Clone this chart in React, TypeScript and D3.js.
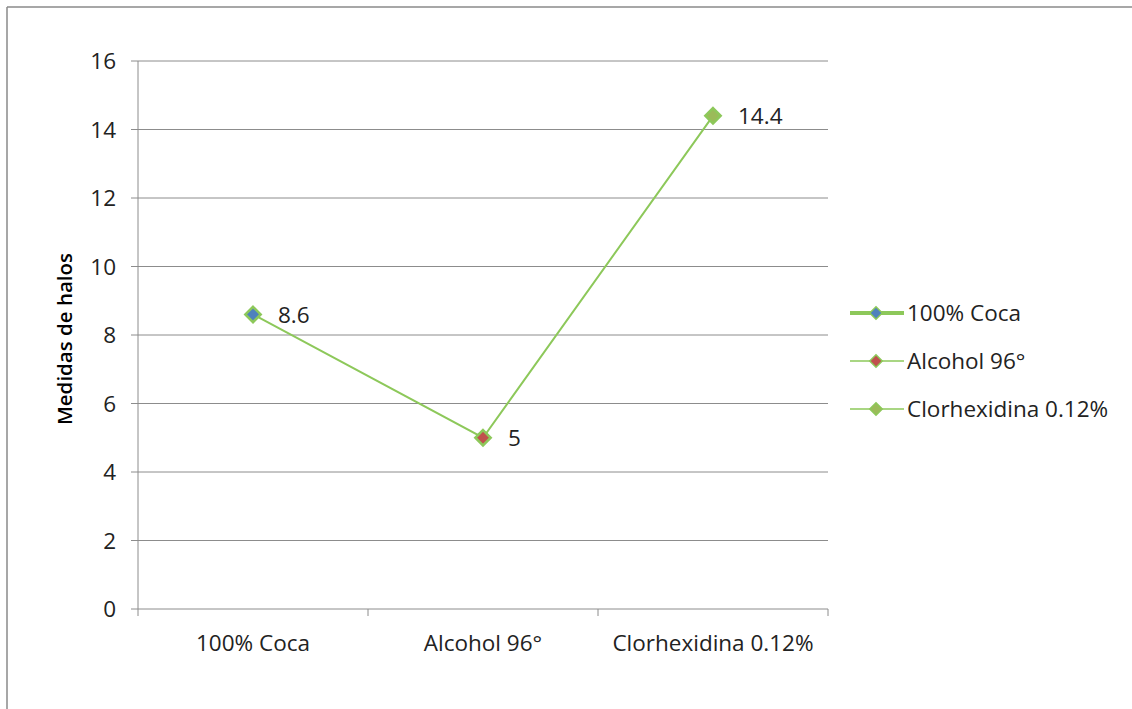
import React from "react";
import * as d3 from "d3";

const categories = ["100% Coca", "Alcohol 96°", "Clorhexidina 0.12%"];
const values = [8.6, 5, 14.4];
const labels = ["8.6", "5", "14.4"];
const markerColors = ["#4F81BD", "#C0504D", "#9BBB59"];
const yTicks = [0, 2, 4, 6, 8, 10, 12, 14, 16];
const legendNames = ["100% Coca", "Alcohol 96°", "Clorhexidina 0.12%"];
const legendWidths = [4, 1.5, 1.5];

const W = 1132;
const H = 709;
const font = "'Open Sans', sans-serif";
const fs = 22.5;

export default function App() {
  const left = 138, right = 828, top = 61, bottom = 609;
  const x = d3.scaleBand<string>().domain(categories).range([left, right]);
  const y = d3.scaleLinear().domain([0, 16]).range([bottom, top]);
  const cx = (c: string) => (x(c) as number) + x.bandwidth() / 2;
  const line = d3.line<number>().x((_, i) => cx(categories[i])).y((v) => y(v));
  const diamond = d3.symbol().type(d3.symbolDiamond2).size(150)();
  const lineColor = "#8DC85A";
  const axisColor = "#8C8C8C";
  const bounds = [left, ...categories.map((c) => (x(c) as number) + x.bandwidth())];

  return (
    <svg width={W} height={H} style={{ position: "absolute", left: 0, top: 0 }}>
      <rect x={0} y={0} width={W} height={H} fill="#fff" />
      <line x1={7} y1={7} x2={W} y2={7} stroke="#8a8a8a" strokeWidth={1.5} />
      <line x1={7} y1={7} x2={7} y2={H} stroke="#8a8a8a" strokeWidth={1.5} />
      {yTicks.map((t) => (
        <g key={t}>
          <line x1={131} x2={right} y1={y(t)} y2={y(t)} stroke={axisColor} strokeWidth={1} />
          <text x={116} y={y(t)} dy="0.36em" textAnchor="end" fontFamily={font} fontSize={fs} fill="#222">
            {t}
          </text>
        </g>
      ))}
      <line x1={left} x2={left} y1={top} y2={bottom} stroke={axisColor} strokeWidth={1} />
      {bounds.map((b, i) => (
        <line key={i} x1={b} x2={b} y1={bottom} y2={bottom + 7} stroke={axisColor} strokeWidth={1} />
      ))}
      {categories.map((c) => (
        <text key={c} x={cx(c)} y={643} dy="0.36em" textAnchor="middle" fontFamily={font} fontSize={fs} fill="#222">
          {c}
        </text>
      ))}
      <text
        transform={`translate(65, 339) rotate(-90)`}
        textAnchor="middle"
        dy="0.36em"
        fontFamily={font}
        fontSize={20.5}
        fontWeight="600"
        fill="#000"
      >
        Medidas de halos
      </text>
      <path d={line(values) || ""} fill="none" stroke={lineColor} strokeWidth={2} />
      {values.map((v, i) => (
        <g key={i}>
          <path
            d={diamond || ""}
            transform={`translate(${cx(categories[i])}, ${y(v)})`}
            fill={markerColors[i]}
            stroke={lineColor}
            strokeWidth={2.5}
          />
          <text x={cx(categories[i]) + 25} y={y(v)} dy="0.36em" fontFamily={font} fontSize={fs} fill="#222">
            {labels[i]}
          </text>
        </g>
      ))}
      {legendNames.map((n, i) => {
        const ly = 313 + i * 48;
        return (
          <g key={n}>
            <line x1={850} x2={904} y1={ly} y2={ly} stroke={lineColor} strokeWidth={legendWidths[i]} />
            <path
              d={d3.symbol().type(d3.symbolDiamond2).size(100)() || ""}
              transform={`translate(876, ${ly})`}
              fill={markerColors[i]}
              stroke={lineColor}
              strokeWidth={1.5}
            />
            <text x={907} y={ly} dy="0.36em" fontFamily={font} fontSize={fs} fill="#222">
              {n}
            </text>
          </g>
        );
      })}
    </svg>
  );
}
